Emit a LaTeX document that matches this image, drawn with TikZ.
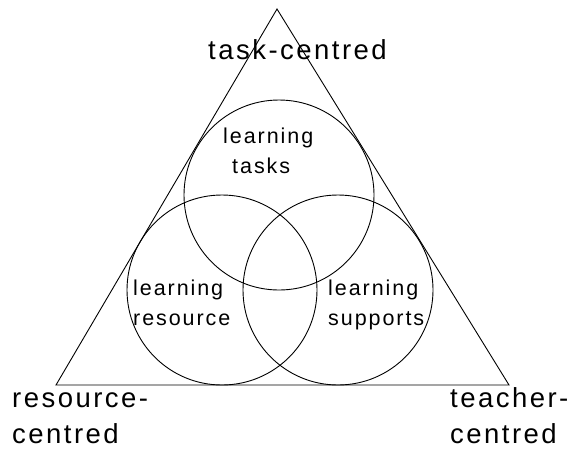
\documentclass[tikz,border=0pt]{standalone}
\usepackage{fontspec}
\setmainfont{Liberation Sans}[LetterSpace=9]
\begin{document}
\begin{tikzpicture}[x=1pt,y=-1pt,
  edge/.style={draw=black,line width=0.9pt},
  inner/.style={font={\fontsize{21.5}{30}\selectfont},align=left,inner sep=0pt,anchor=base west},
  outer/.style={font={\fontsize{27.5}{36}\selectfont},align=left,inner sep=0pt,anchor=base west}]
\useasboundingbox (0,0) rectangle (569,451);
\coordinate (apex) at (277,9);
\coordinate (bl) at (56,385);
\coordinate (br) at (509,385);
\draw[edge] (apex) -- (bl) -- (br) -- cycle;
\node[edge,circle,minimum size=190pt,inner sep=0pt] (ctask) at (279,195) {};
\node[edge,circle,minimum size=190pt,inner sep=0pt] (cres) at (222,290) {};
\node[edge,circle,minimum size=190pt,inner sep=0pt] (csup) at (338,290) {};
\node[outer,anchor=base] (ttask) at (297.5,59) {task-centred};
\node[inner] (ltask) at (223,173) {learning\\\hspace*{9pt}tasks};
\node[inner] (lres) at (133,325) {learning\\resource};
\node[inner] (lsup) at (328,325) {learning\\supports};
\node[outer] (tres) at (12,443) {resource-\\centred};
\node[outer] (tteach) at (450,443) {teacher-\\centred};
\end{tikzpicture}
\end{document}
